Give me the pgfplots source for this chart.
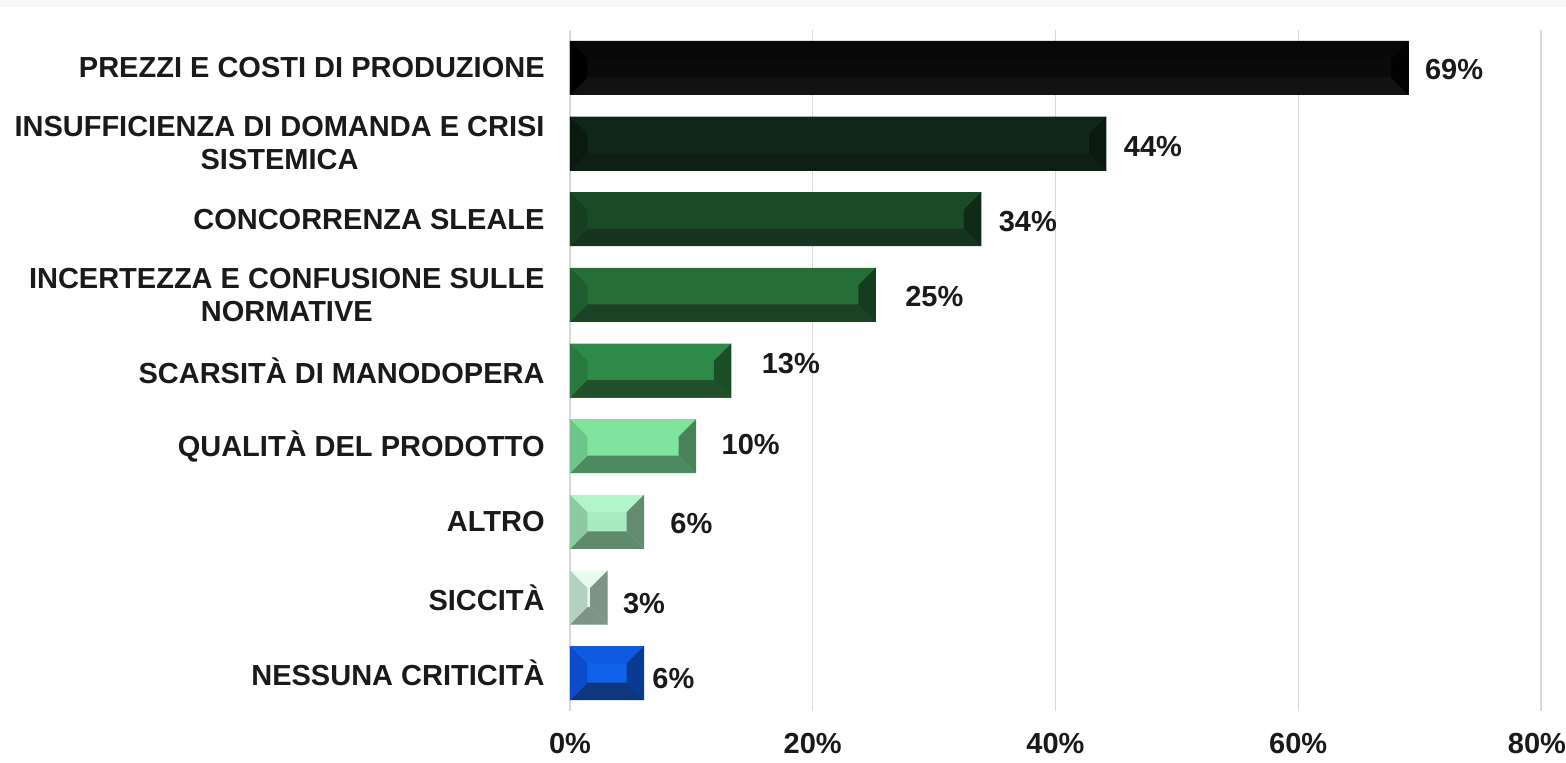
\documentclass[border=0pt]{standalone}
\usepackage{pgfplots}
\pgfplotsset{compat=1.18}
\usepackage{fontspec}
\setmainfont{Liberation Sans}
\definecolor{txt}{HTML}{1A1A1A}
\definecolor{gridc}{HTML}{D9D9D9}
\definecolor{band}{HTML}{F7F7F7}
% bar colours: m main, t top bevel, l left, r right, b bottom
\definecolor{c1m}{HTML}{0A0A0A}\definecolor{c1t}{HTML}{080808}\definecolor{c1l}{HTML}{000000}\definecolor{c1r}{HTML}{020202}\definecolor{c1b}{HTML}{121212}
\definecolor{c2m}{HTML}{0F2618}\definecolor{c2t}{HTML}{0F2618}\definecolor{c2l}{HTML}{0A1A0F}\definecolor{c2r}{HTML}{0A1A0F}\definecolor{c2b}{HTML}{111E15}
\definecolor{c3m}{HTML}{1B4A27}\definecolor{c3t}{HTML}{1B4A27}\definecolor{c3l}{HTML}{163F21}\definecolor{c3r}{HTML}{0F2A17}\definecolor{c3b}{HTML}{17351E}
\definecolor{c4m}{HTML}{256E38}\definecolor{c4t}{HTML}{256E38}\definecolor{c4l}{HTML}{1F5C2F}\definecolor{c4r}{HTML}{163C1F}\definecolor{c4b}{HTML}{1C4225}
\definecolor{c5m}{HTML}{2E8B47}\definecolor{c5t}{HTML}{2E8B47}\definecolor{c5l}{HTML}{28793E}\definecolor{c5r}{HTML}{1B4E27}\definecolor{c5b}{HTML}{224F2C}
\definecolor{c6m}{HTML}{80E39E}\definecolor{c6t}{HTML}{80E39E}\definecolor{c6l}{HTML}{6DC589}\definecolor{c6r}{HTML}{4B8259}\definecolor{c6b}{HTML}{4E8A60}
\definecolor{c7m}{HTML}{A8EBC0}\definecolor{c7t}{HTML}{B3F4CB}\definecolor{c7l}{HTML}{8DCA9F}\definecolor{c7r}{HTML}{648B70}\definecolor{c7b}{HTML}{5F8A6C}
\definecolor{c8m}{HTML}{E6F9EC}\definecolor{c8t}{HTML}{E8FBEE}\definecolor{c8l}{HTML}{B4D0BF}\definecolor{c8r}{HTML}{7E9585}\definecolor{c8b}{HTML}{7E9585}
\definecolor{c9m}{HTML}{1062E8}\definecolor{c9t}{HTML}{105AE2}\definecolor{c9l}{HTML}{0C4CCC}\definecolor{c9r}{HTML}{0A3A92}\definecolor{c9b}{HTML}{10367C}

\newcommand\lblfont{\fontsize{14.5pt}{16.5pt}\selectfont\bfseries}

% #1 position, #2 value, #3 colour prefix, #4 label style
\newcommand\bevelbar[4]{%
  \addplot[xbar, bar width=27pt, bar shift=0pt, fill=#3m, draw=none,
    nodes near coords={\pgfmathprintnumber[fixed,precision=0]{\pgfplotspointmeta}\%},
    nodes near coords align={horizontal},
    every node near coord/.append style={font=\lblfont, text=txt, inner sep=0pt, anchor=west, #4}]
    coordinates {(#2,#1)};
  \pgfmathsetmacro\bT{#1-0.3568}%
  \pgfmathsetmacro\bB{#1+0.3568}%
  \pgfmathsetmacro\iT{#1-0.3568+0.231}%
  \pgfmathsetmacro\iB{#1+0.3568-0.231}%
  \pgfmathsetmacro\dd{min(1.44,#2/2)}%
  \pgfmathsetmacro\vd{#2-\dd}%
  \edef\tmp{%
    \noexpand\addplot[fill=#3t, draw=none, forget plot] coordinates {(0,\bT) (#2,\bT) (\vd,\iT) (\dd,\iT)} -- cycle;
    \noexpand\addplot[fill=#3b, draw=none, forget plot] coordinates {(0,\bB) (#2,\bB) (\vd,\iB) (\dd,\iB)} -- cycle;
    \noexpand\addplot[fill=#3l, draw=none, forget plot] coordinates {(0,\bT) (\dd,\iT) (\dd,\iB) (0,\bB)} -- cycle;
    \noexpand\addplot[fill=#3r, draw=none, forget plot] coordinates {(#2,\bT) (\vd,\iT) (\vd,\iB) (#2,\bB)} -- cycle;
  }%
  \tmp
}

\begin{document}
\begin{tikzpicture}
\fill[band] (-285pt,352pt) rectangle (498pt,355.5pt);
\begin{axis}[
  at={(0,0)}, anchor=south west,
  scale only axis, width=485.5pt, height=340.5pt,
  xmin=0, xmax=80, ymin=-0.5, ymax=8.5,
  y dir=reverse,
  clip=false,
  no markers,
  axis line style={draw=none},
  major tick length=0pt,
  xtick={0,20,40,60,80},
  xticklabels={0\%,20\%,40\%,60\%,\hspace*{-4pt}80\%},
  xmajorgrids,
  major grid style={gridc, line width=0.75pt},
  ytick={0,1,2,3,4,5,6,7,8},
  yticklabels={
    PREZZI E COSTI DI PRODUZIONE,
    {INSUFFICIENZA DI DOMANDA E CRISI\\SISTEMICA},
    CONCORRENZA SLEALE,
    {INCERTEZZA E CONFUSIONE SULLE\\NORMATIVE},
    SCARSITÀ DI MANODOPERA,
    QUALITÀ DEL PRODOTTO,
    ALTRO,
    SICCITÀ,
    NESSUNA CRITICITÀ},
  yticklabel style={font=\lblfont, text=txt, align=center, anchor=east, inner sep=0pt, xshift=-12.5pt},
  xticklabel style={font=\lblfont, text=txt, anchor=north, inner sep=0pt, yshift=-11pt},
  /pgf/number format/assume math mode=true,
]
\bevelbar{0}{69.1}{c1}{xshift=8pt,yshift=-1pt}
\bevelbar{1}{44.2}{c2}{xshift=8.5pt,yshift=-1.5pt}
\bevelbar{2}{33.9}{c3}{xshift=8.5pt,yshift=-1pt}
\bevelbar{3}{25.2}{c4}{xshift=14.5pt,yshift=-1pt}
\bevelbar{4}{13.3}{c5}{xshift=15pt,yshift=3.5pt}
\bevelbar{5}{10.4}{c6}{xshift=12.5pt,yshift=1pt}
\bevelbar{6}{6.1}{c7}{xshift=13pt,yshift=-1pt}
\bevelbar{7}{3.1}{c8}{xshift=7.5pt,yshift=-3pt}
\bevelbar{8}{6.1}{c9}{xshift=4pt,yshift=-2.5pt}
\end{axis}
\pgfresetboundingbox
\path[use as bounding box] (-285pt,-26pt) rectangle (498pt,355.5pt);
\end{tikzpicture}
\end{document}
